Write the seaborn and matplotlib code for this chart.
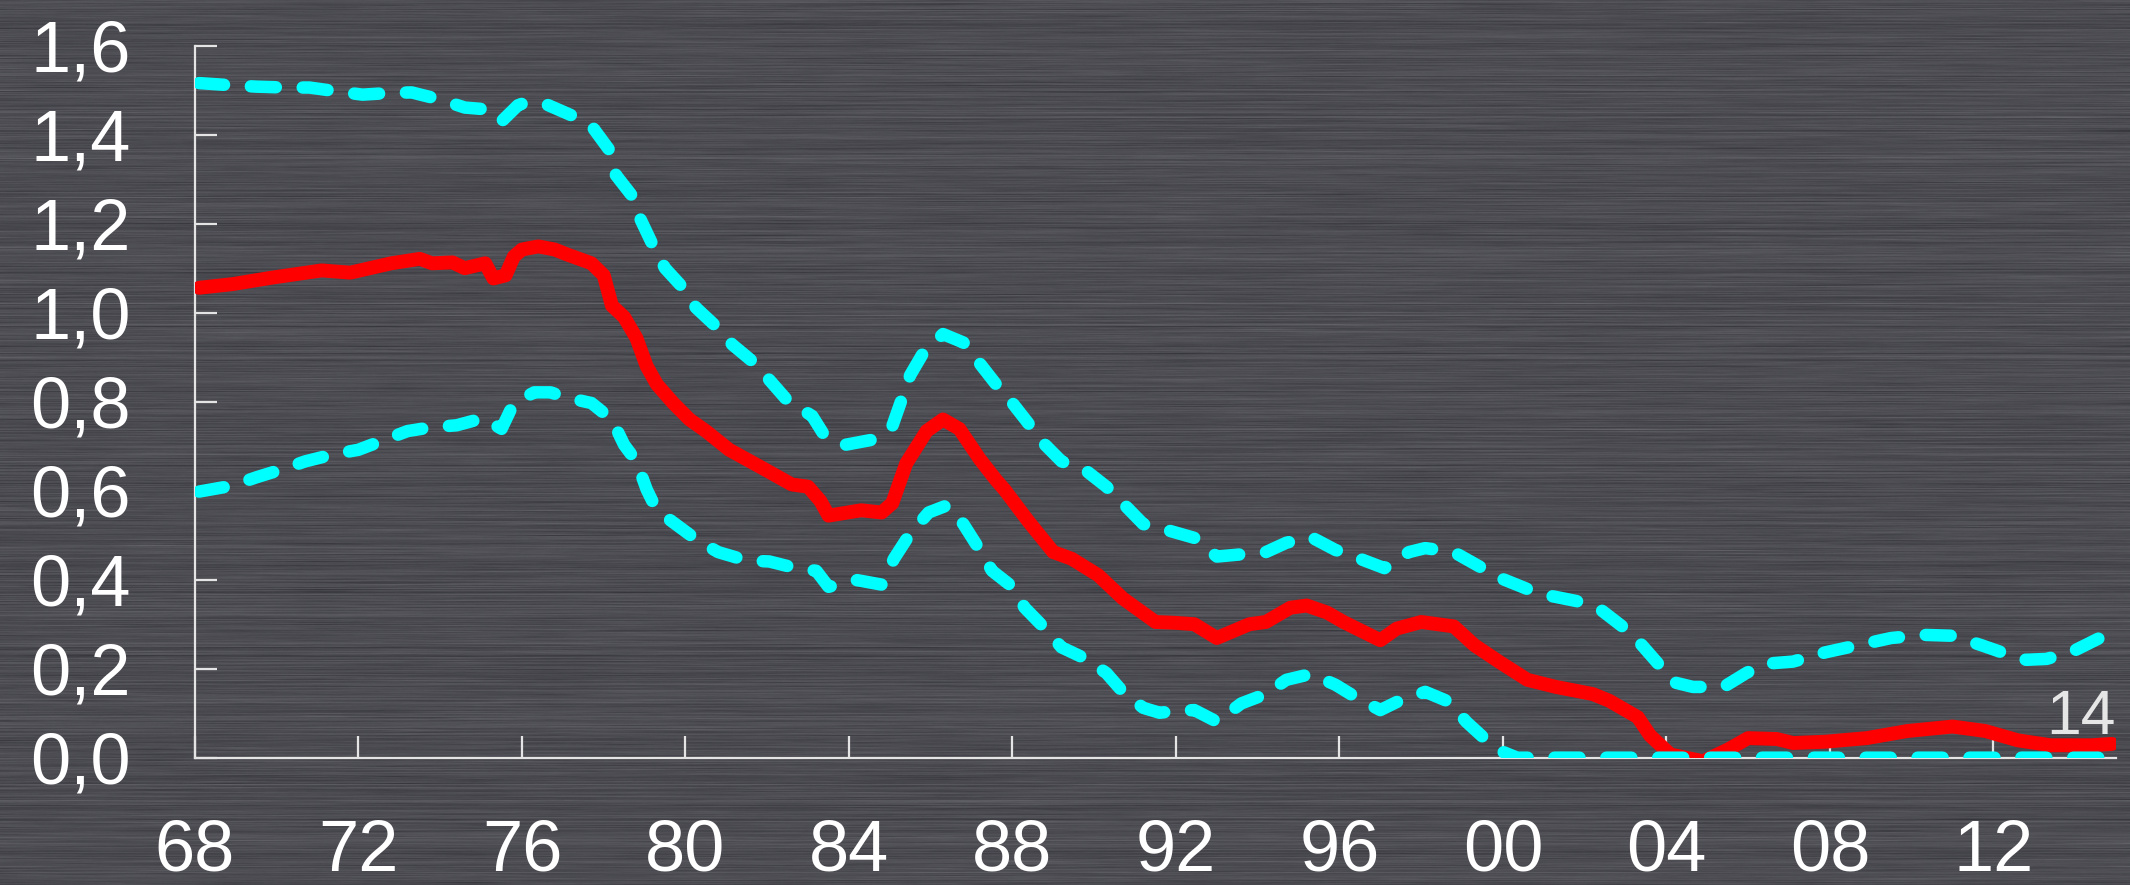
import numpy as np
import matplotlib
matplotlib.use("Agg")
import matplotlib.pyplot as plt
import seaborn as sns
from matplotlib.ticker import FixedLocator, FixedFormatter

# ---- data -----------------------------------------------------------------
years_mid = [1968.1, 1968.9, 1969.9, 1971.1, 1971.8, 1972.8, 1973.5, 1973.8, 1974.3, 1974.6,
             1975.1, 1975.3, 1975.6, 1975.8, 1976.0, 1976.4, 1976.8, 1977.1, 1977.7, 1978.0,
             1978.2, 1978.5, 1978.8, 1979.05, 1979.3, 1979.7, 1980.1, 1980.5, 1981.07, 1981.9,
             1982.6, 1983.0, 1983.3, 1983.5, 1984.3, 1984.8, 1985.06, 1985.4, 1985.9, 1986.3,
             1986.7, 1987.2, 1987.6, 1987.8, 1988.4, 1989.0, 1989.45, 1990.1, 1990.7, 1991.5,
             1992.0, 1992.45, 1993.0, 1993.8, 1994.2, 1994.8, 1995.2, 1995.7, 1996.1, 1997.0,
             1997.4, 1998.0, 1998.8, 1999.3, 1999.9, 2000.6, 2001.3, 2002.2, 2002.6, 2003.3,
             2003.6, 2004.1, 2004.9, 2005.5, 2006.0, 2006.7, 2007.1, 2007.9, 2008.9, 2009.9,
             2011.0, 2011.8, 2012.6, 2013.4, 2014.4, 2014.9]
values_mid = [1.056, 1.064, 1.079, 1.095, 1.090, 1.111, 1.121, 1.111, 1.113, 1.100,
              1.111, 1.077, 1.084, 1.126, 1.142, 1.149, 1.142, 1.131, 1.111, 1.084,
              1.016, 0.990, 0.943, 0.880, 0.839, 0.797, 0.760, 0.734, 0.692, 0.650,
              0.614, 0.609, 0.577, 0.544, 0.556, 0.551, 0.572, 0.661, 0.734, 0.760,
              0.739, 0.671, 0.624, 0.603, 0.530, 0.462, 0.447, 0.410, 0.358, 0.305,
              0.303, 0.300, 0.269, 0.300, 0.305, 0.337, 0.342, 0.326, 0.305, 0.264,
              0.290, 0.305, 0.295, 0.253, 0.216, 0.175, 0.159, 0.143, 0.128, 0.091,
              0.050, 0.007, -0.008, 0.018, 0.044, 0.042, 0.033, 0.036, 0.044, 0.060,
              0.070, 0.060, 0.039, 0.028, 0.028, 0.031]

years_up = [1968.1, 1968.9, 1969.5, 1970.2, 1970.8, 1971.5, 1972.1, 1972.8, 1973.3, 1974.0,
            1974.6, 1975.0, 1975.2, 1975.5, 1975.9, 1976.1, 1976.6, 1977.3, 1977.75, 1978.15,
            1978.3, 1978.7, 1978.9, 1979.2, 1979.5, 1979.9, 1980.26, 1980.75, 1981.15, 1981.7,
            1982.1, 1982.5, 1983.1, 1983.4, 1983.9, 1984.6, 1985.06, 1985.5, 1985.8, 1986.3,
            1986.8, 1987.2, 1987.6, 1988.0, 1988.4, 1988.8, 1989.2, 1989.8, 1990.3, 1990.7,
            1991.2, 1991.8, 1992.45, 1993.0, 1993.6, 1994.2, 1994.7, 1995.3, 1995.9, 1996.5,
            1997.1, 1997.7, 1998.1, 1998.8, 1999.4, 1999.9, 2000.6, 2001.2, 2001.8, 2002.4,
            2002.95, 2003.4, 2003.8, 2004.2, 2004.65, 2005.4, 2005.95, 2006.4, 2007.1, 2007.9,
            2008.7, 2009.5, 2010.3, 2011.0, 2011.7, 2012.2, 2012.8, 2013.3, 2013.9, 2014.6,
            2014.9]
values_up = [1.516, 1.511, 1.508, 1.506, 1.506, 1.497, 1.490, 1.494, 1.495, 1.479,
             1.461, 1.458, 1.440, 1.430, 1.466, 1.473, 1.468, 1.440, 1.414, 1.364,
             1.309, 1.262, 1.210, 1.152, 1.100, 1.060, 1.011, 0.969, 0.928, 0.886,
             0.844, 0.802, 0.768, 0.724, 0.703, 0.715, 0.745, 0.860, 0.907, 0.952,
             0.933, 0.886, 0.839, 0.797, 0.750, 0.703, 0.666, 0.645, 0.609, 0.572,
             0.525, 0.511, 0.494, 0.452, 0.457, 0.462, 0.483, 0.496, 0.467, 0.447,
             0.426, 0.462, 0.471, 0.462, 0.431, 0.405, 0.379, 0.363, 0.352, 0.332,
             0.293, 0.253, 0.211, 0.169, 0.159, 0.159, 0.190, 0.211, 0.216, 0.237,
             0.253, 0.269, 0.276, 0.274, 0.253, 0.237, 0.220, 0.222, 0.237, 0.269,
             0.285]

years_low = [1968.1, 1968.9, 1969.5, 1970.2, 1970.7, 1971.4, 1972.0, 1972.6, 1973.2, 1973.75,
             1974.4, 1975.05, 1975.5, 1975.8, 1976.3, 1976.7, 1977.1, 1977.7, 1978.2, 1978.5,
             1978.8, 1979.05, 1979.3, 1979.8, 1980.3, 1980.8, 1981.5, 1982.05, 1982.7, 1983.2,
             1983.5, 1984.2, 1984.8, 1985.1, 1985.5, 1985.95, 1986.4, 1986.8, 1987.2, 1987.5,
             1988.0, 1988.3, 1988.8, 1989.2, 1989.8, 1990.3, 1990.7, 1991.2, 1991.6, 1992.0,
             1992.45, 1993.0, 1993.6, 1994.2, 1994.7, 1995.3, 1995.9, 1996.4, 1997.0, 1997.4,
             1998.1, 1998.7, 1999.1, 1999.6, 2000.0, 2000.35, 2014.9]
values_low = [0.598, 0.611, 0.630, 0.650, 0.666, 0.682, 0.692, 0.713, 0.734, 0.742,
              0.747, 0.763, 0.739, 0.797, 0.821, 0.821, 0.809, 0.797, 0.760, 0.703,
              0.666, 0.603, 0.556, 0.522, 0.488, 0.462, 0.443, 0.441, 0.426, 0.420,
              0.384, 0.399, 0.389, 0.447, 0.504, 0.551, 0.567, 0.525, 0.467, 0.420,
              0.384, 0.337, 0.290, 0.248, 0.222, 0.190, 0.148, 0.112, 0.101, 0.105,
              0.107, 0.081, 0.122, 0.143, 0.175, 0.188, 0.164, 0.136, 0.107, 0.125,
              0.148, 0.125, 0.081, 0.039, 0.013, 0.0, 0.0]

x_ticks = [1968, 1972, 1976, 1980, 1984, 1988, 1992, 1996, 2000, 2004, 2008, 2012]
x_tick_labels = ["68", "72", "76", "80", "84", "88", "92", "96", "00", "04", "08", "12"]
y_ticks = [0.0, 0.2, 0.4, 0.6, 0.8, 1.0, 1.2, 1.4, 1.6]
y_tick_labels = ["0,0", "0,2", "0,4", "0,6", "0,8", "1,0", "1,2", "1,4", "1,6"]
end_label = "14"

# ---- style ----------------------------------------------------------------
sns.set_style("ticks")
plt.rcParams["font.family"] = ["Liberation Sans", "DejaVu Sans"]

W, H = 2130, 885
fig = plt.figure(figsize=(W / 100, H / 100), dpi=100)
fig.patch.set_facecolor("#4c4c52")

# brushed-metal backdrop: thin horizontal streaks
rng = np.random.default_rng(11)
row_shift = rng.normal(0, 1, (H, 1)) * 4.5
coarse = rng.normal(0, 1, (H, 28))
xs = np.linspace(0, 27, W)
slow = np.array([np.interp(xs, np.arange(28), r) for r in coarse]) * 4.0
fine = rng.normal(0, 1, (H, W + 40))
csum = np.cumsum(fine, axis=1)
fine = (csum[:, 40:] - csum[:, :-40]) / np.sqrt(40) * 2.0
lum = 76 + row_shift + slow + fine
img = np.clip(np.stack([lum, lum + 0.5, lum + 6], axis=-1) / 255.0, 0, 1)
bg = fig.add_axes([0, 0, 1, 1], zorder=-10)
bg.imshow(img, aspect="auto", interpolation="bilinear")
bg.axis("off")

ax = fig.add_axes([195 / W, 1 - 757.7 / H, (2116 - 195) / W, (757.7 - 45.7) / H])
ax.set_facecolor("none")

sns.lineplot(x=years_mid, y=values_mid, ax=ax, color="#ff0000", linewidth=10,
             estimator=None, sort=False, zorder=3,
             solid_capstyle="round", solid_joinstyle="round")
for ys, vs in [(years_up, values_up), (years_low, values_low)]:
    sns.lineplot(x=ys, y=vs, ax=ax, color="#00ffff", linewidth=9,
                 linestyle=(0, (2.0, 2.15)), estimator=None, sort=False, zorder=4,
                 dash_capstyle="round", dash_joinstyle="round")

ax.set_xlim(1968, 2015)
ax.set_ylim(0, 1.6)
ax.set_xlabel("")
ax.set_ylabel("")

for side in ["top", "right"]:
    ax.spines[side].set_visible(False)
for side in ["left", "bottom"]:
    ax.spines[side].set_color("#e4e4e4")
    ax.spines[side].set_linewidth(1.6)
    ax.spines[side].set_zorder(2)

ax.xaxis.set_major_locator(FixedLocator(x_ticks))
ax.xaxis.set_major_formatter(FixedFormatter(x_tick_labels))
ax.yaxis.set_major_locator(FixedLocator(y_ticks))
ax.yaxis.set_major_formatter(FixedFormatter(y_tick_labels))
ax.tick_params(axis="both", direction="in", length=16, width=1.6, color="#e4e4e4",
               labelcolor="#ffffff", labelsize=52)
ax.tick_params(axis="x", pad=44)
ax.tick_params(axis="y", pad=46)

ax.text(2015, 0.053, end_label, ha="right", va="baseline", fontsize=45, color="#e6e6e6")

fig.savefig("out.png", dpi=100, facecolor=fig.get_facecolor())
